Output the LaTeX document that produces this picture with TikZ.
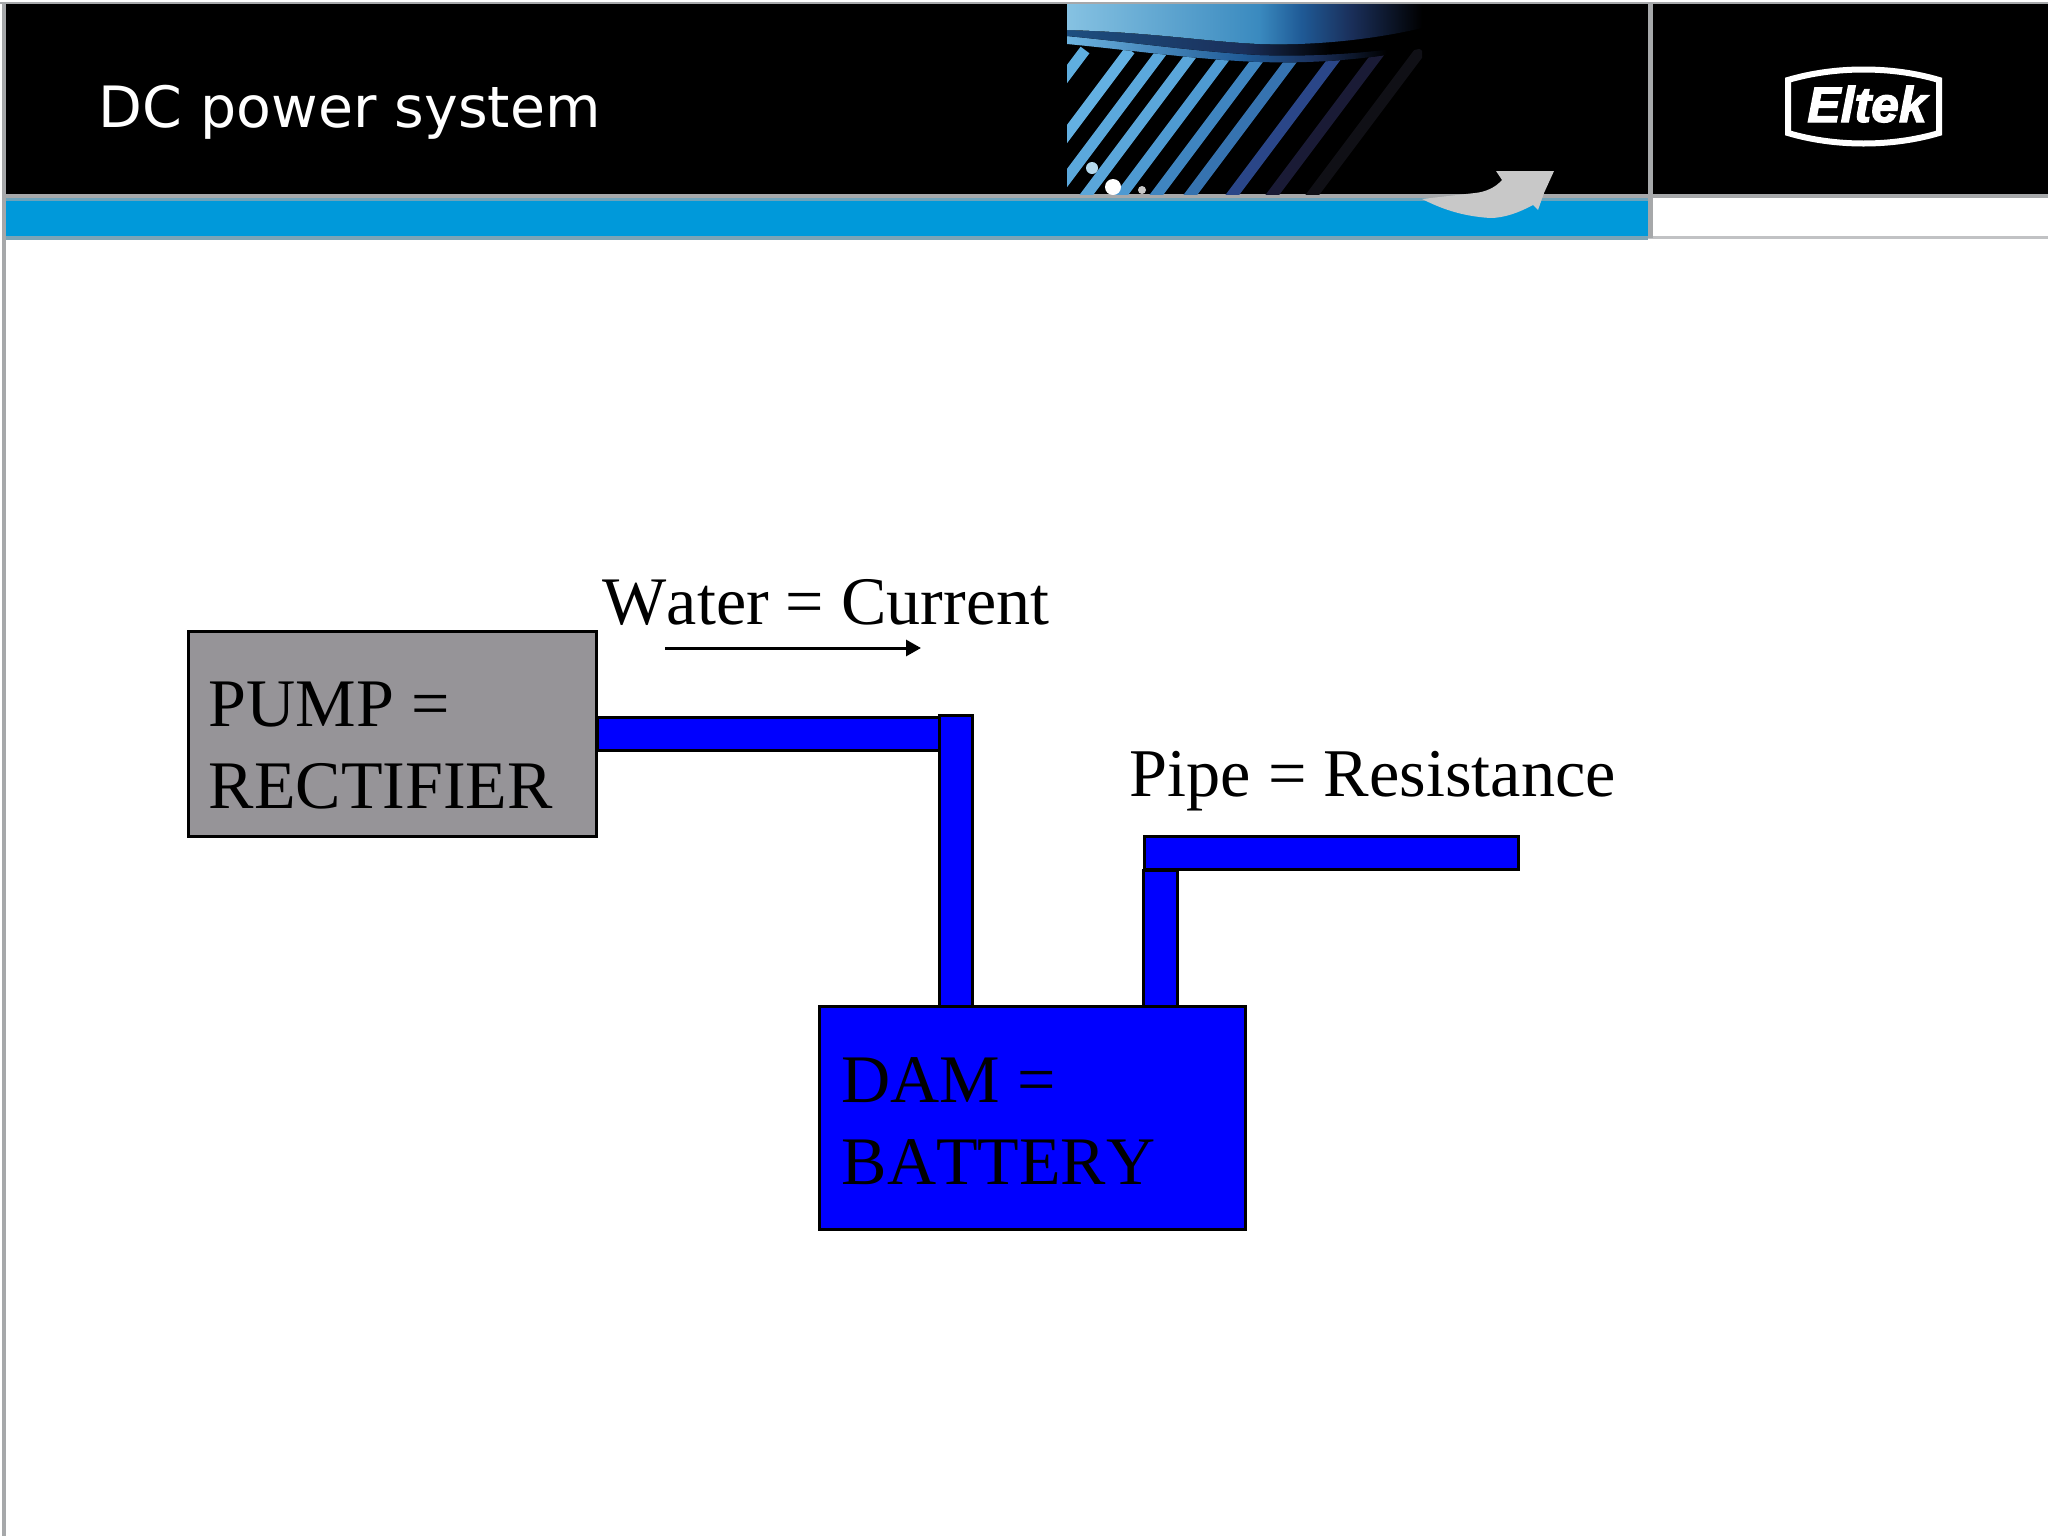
\documentclass[tikz,border=0pt]{standalone}
\usepackage{fontspec}
\setmainfont{Liberation Serif}[Kerning=Off]
\newfontfamily\titlefont{DejaVu Sans}
\newfontfamily\logofont{Liberation Sans}[BoldItalicFeatures={FakeBold=2.5}]
\usetikzlibrary{arrows.meta}
\definecolor{edgegray}{HTML}{A6A8AA}
\definecolor{bandblue}{HTML}{0099DA}
\definecolor{pumpgray}{HTML}{969498}
\definecolor{arrowgray}{HTML}{C8C8C8}
\definecolor{bandlight}{HTML}{86C2E2}
\definecolor{bandmid}{HTML}{3A8ABF}
\definecolor{bandnavy}{HTML}{1F5A96}
\definecolor{banddark}{HTML}{1A2F5A}
\definecolor{swoosh}{HTML}{1D4F80}
\definecolor{finlight}{HTML}{6DB4E0}
\pgfdeclarehorizontalshading{bandfade}{100bp}{
  color(0bp)=(bandlight); color(25bp)=(bandlight); color(52bp)=(bandmid);
  color(58bp)=(bandnavy); color(65bp)=(banddark); color(75bp)=(black); color(100bp)=(black)}
\pgfdeclarehorizontalshading{swooshfade}{100bp}{
  color(0bp)=(swoosh); color(25bp)=(swoosh); color(50bp)=(banddark);
  color(62bp)=(black); color(100bp)=(black)}
\pgfdeclarehorizontalshading{rimfade}{100bp}{
  color(0bp)=(finlight); color(25bp)=(finlight); color(50bp)=(bandnavy);
  color(60bp)=(banddark); color(70bp)=(black); color(100bp)=(black)}
\tikzset{
  boxstyle/.style={draw=black,line width=0.03cm,inner sep=0pt},
  pumpbox/.style={boxstyle,fill=pumpgray,minimum width=4.08cm,minimum height=2.04cm},
  dambox/.style={boxstyle,fill=blue,minimum width=4.26cm,minimum height=2.22cm},
  pipeh/.style={boxstyle,fill=blue,minimum height=0.33cm},
  pipev/.style={boxstyle,fill=blue,minimum width=0.335cm},
  lbl/.style={inner sep=0pt,anchor=base west,font=\fontsize{19.35pt}{23.2pt}\selectfont,align=left},
  fin/.style={line width=0.11cm,line cap=butt}
}
\begin{document}
\begin{tikzpicture}[x=0.01cm,y=-0.01cm]
  \useasboundingbox (0,0) rectangle (2048,1536);
  \fill[white] (0,0) rectangle (2048,1536);
  % header
  \fill[black] (4,4) rectangle (2048,194);
  \fill[bandblue] (5,200) rectangle (1648,236);
  \fill[edgegray] (0,2) rectangle (2048,4);
  \fill[edgegray] (2,2) rectangle (6,1536);
  \fill[edgegray] (4,194) rectangle (2048,198);
  \fill[bandblue!35!edgegray] (6,198) rectangle (1648,201);
  \fill[bandblue!25!edgegray] (6,236) rectangle (1648,240);
  \fill[edgegray!70] (1648,236) rectangle (2048,239);
  \fill[edgegray] (1648,4) rectangle (1653,238);
  % picture in the header
  \begin{scope}
    \clip (1067,4) rectangle (1422,194);
    \foreach \sx/\scol in {1077/5FAEDF,1122/63B0E2,1155/5BA8DC,1187/5AA6DA,1222/4E9AD2,
      1257/3F85C0,1291/3673B0,1333/2A4688,1373/1A1B36,1413/101016}{
      \definecolor{fincol}{HTML}{\scol}
      \draw[fin,fincol] (\sx+8,50) -- (\sx-112,210);
    }
    \fill[shading=rimfade] (1067,36) .. controls (1150,40) and (1210,50) .. (1260,52)
      .. controls (1320,54) and (1380,44) .. (1422,36) -- (1422,48)
      .. controls (1380,58) and (1320,64) .. (1260,62) .. controls (1200,60) and (1130,50) .. (1067,44) -- cycle;
    \fill[shading=swooshfade] (1067,30) .. controls (1150,32) and (1210,42) .. (1260,44)
      .. controls (1320,46) and (1380,38) .. (1422,28) -- (1422,44)
      .. controls (1380,52) and (1320,57) .. (1260,55) .. controls (1200,52) and (1130,42) .. (1067,36) -- cycle;
    \fill[shading=bandfade] (1067,4) -- (1422,4) -- (1422,28)
      .. controls (1380,38) and (1320,46) .. (1260,44) .. controls (1210,42) and (1150,32) .. (1067,30) -- cycle;
    \fill[white] (1113,187) circle (8);
    \fill[bandlight!60!white] (1092,168) circle (6);
    \fill[arrowgray] (1142,190) circle (4);
  \end{scope}
  % grey arrow over the band
  \fill[arrowgray] (1554,171) -- (1496,171) -- (1502,180) .. controls (1495,188) and (1485,192) .. (1475,193)
    -- (1422,199) .. controls (1440,208) and (1460,216) .. (1490,218)
    .. controls (1505,218) and (1520,212) .. (1533,205) -- (1538,210) -- (1544,193) -- cycle;
  \node[anchor=base west,inner sep=0pt,text=white,font=\titlefont\fontsize{16.2pt}{19pt}\selectfont] (title) at (98,127) {DC power system};
  % logo
  \draw[white,line width=0.06cm] (1788,80) .. controls (1835,66) and (1892,66) .. (1939,80)
    -- (1939,133) .. controls (1892,147) and (1835,147) .. (1788,133) -- cycle;
  \node[anchor=base,inner sep=0pt,text=white,font=\logofont\bfseries\itshape\fontsize{14.2pt}{16pt}\selectfont] (logo) at (1867,122) {Eltek};
  % pipes
  \node[pipeh,minimum width=3.41cm] (pipea) at (768.5,733.5) {};
  \node[pipev,minimum height=2.9cm] (pipeb) at (956,861) {};
  \node[pipev,minimum height=1.35cm] (pipec) at (1160.5,938.5) {};
  \node[pipeh,minimum width=3.74cm] (piped) at (1331.5,853) {};
  % boxes
  \node[pumpbox] (pump) at (392.5,734) {};
  \node[dambox] (dam) at (1032.5,1118) {};
  \node[lbl] (pumplbl) at (208,808) {PUMP =\\RECTIFIER};
  \node[lbl] (damlbl) at (841,1184) {DAM =\\BATTERY};
  \node[lbl] (waterlbl) at (602,624) {Water = Current};
  \node[lbl,font=\fontsize{19.42pt}{23.2pt}\selectfont] (pipelbl) at (1129,796) {Pipe = Resistance};
  % flow arrow
  \coordinate (flowa) at (665,648);
  \coordinate (flowb) at (921,648);
  \draw[line width=0.03cm,-{Triangle[length=0.15cm,width=0.16cm]}] (flowa) -- (flowb);
\end{tikzpicture}
\end{document}
